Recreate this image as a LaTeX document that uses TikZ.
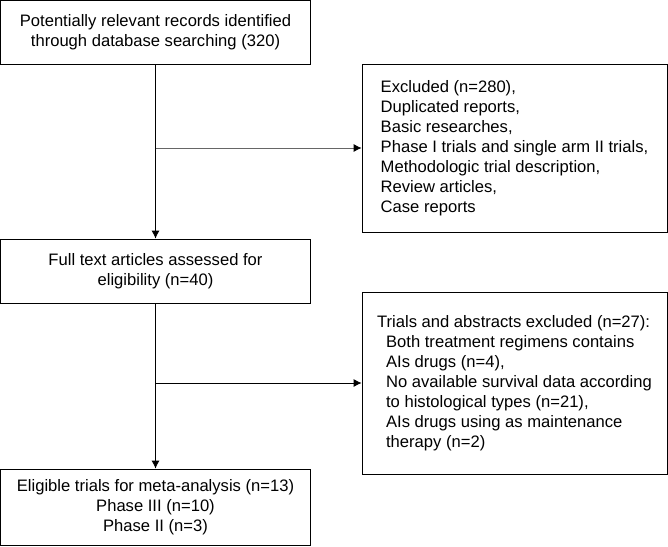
\documentclass[tikz,border=0pt]{standalone}
\usepackage{fontspec}
\setmainfont{Liberation Sans}
\usetikzlibrary{arrows.meta,positioning}

\tikzset{
  box/.style={draw, line width=0.8pt, inner sep=0pt, align=center,
    font=\fontsize{16.6}{20}\selectfont},
  listbox/.style={box, align=left},
  arr/.style={-{Latex[length=8pt,width=8pt,black]}, line width=0.8pt},
}

\begin{document}
\begin{tikzpicture}[x=1pt,y=-1pt]
        \useasboundingbox (0,0) rectangle (668,546);
        % main column
        \node[box, minimum width=310, minimum height=63.5] (records) at (155.5,32.25)
                {Potentially relevant records identified\\through database searching (320)};
        \node[box, minimum width=310, minimum height=64] (fulltext) at (155.5,271)
                {Full text articles assessed for\\eligibility (n=40)};
        \node[box, minimum width=310, minimum height=76] (eligible) at (155.5,507)
                {Eligible trials for meta-analysis (n=13)\\Phase III (n=10)\\Phase II (n=3)};
        % exclusion boxes
        \node[listbox, minimum width=305, minimum height=168] (excl) at (514.5,148)
                {Excluded (n=280),\\Duplicated reports,\\Basic researches,\\
                 Phase I trials and single arm II trials,\\Methodologic trial description,\\
                 Review articles,\\Case reports};
        \node[listbox, minimum width=305, minimum height=182] (trials) at (514.5,383)
                {Trials and abstracts excluded (n=27):\\
                 \hspace*{9pt}Both treatment regimens contains\\
                 \hspace*{9pt}AIs drugs (n=4),\\
                 \hspace*{9pt}No available survival data according\\
                 \hspace*{9pt}to histological types (n=21),\\
                 \hspace*{9pt}AIs drugs using as maintenance\\
                 \hspace*{9pt}therapy (n=2)};
        % connectors
        \draw[arr] (records.south) -- (fulltext.north);
        \draw[arr, black!60] (records.south |- excl.west) -- (excl.west);
        \draw[arr] (fulltext.south) -- (eligible.north);
        \draw[arr] (fulltext.south |- trials.west) -- (trials.west);
\end{tikzpicture}
\end{document}
